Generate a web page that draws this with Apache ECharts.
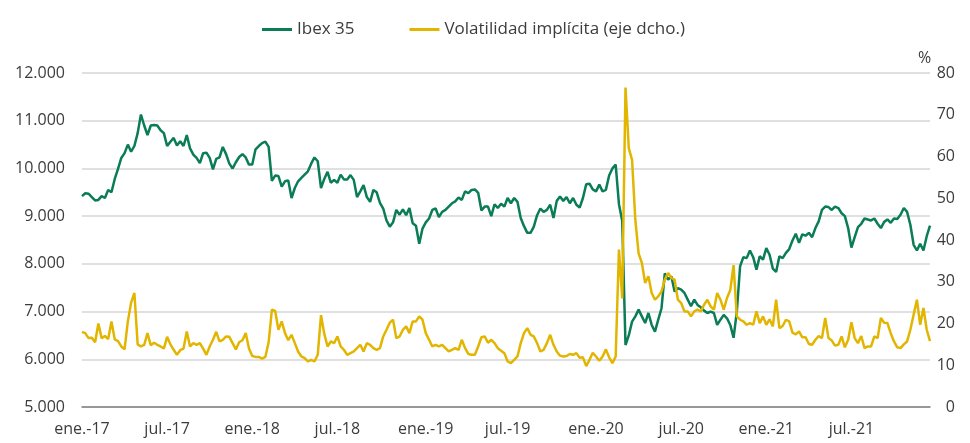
<!DOCTYPE html>
<html>
<head>
<meta charset="utf-8">
<title>Ibex 35 y volatilidad</title>
<script src="https://cdn.jsdelivr.net/npm/echarts@6/dist/echarts.min.js"></script>
<style>
  html, body { margin: 0; padding: 0; background: #fff; }
  #chart { width: 970px; height: 443px; }
</style>
</head>
<body>
<div id="chart"></div>
<script>
// semanas desde el lunes 2-ene-2017
const startDate = '2017-01-02'
const monthNames = ['ene.', 'feb.', 'mar.', 'abr.', 'may.', 'jun.', 'jul.', 'ago.', 'sep.', 'oct.', 'nov.', 'dic.']

// Ibex 35 (eje izq.), cierre semanal aprox.
const ibex = [
  9420, 9480, 9470, 9400, 9330, 9340, 9420, 9380, 9550, 9500,
  9780, 9990, 10220, 10320, 10500, 10350, 10470, 10740, 11130, 10900,
  10700, 10900, 10910, 10900, 10800, 10740, 10470, 10560, 10640, 10480,
  10570, 10470, 10700, 10420, 10290, 10220, 10110, 10320, 10330, 10220,
  9980, 10200, 10230, 10450, 10300, 10100, 10000, 10130, 10240, 10300,
  10230, 10080, 10080, 10400, 10470, 10530, 10560, 10450, 9740, 9850,
  9840, 9620, 9730, 9750, 9380, 9590,
  9730, 9800, 9870, 9940, 10100, 10230, 10150, 9590, 9780, 9930,
  9700, 9760, 9700, 9870, 9770, 9770, 9860, 9760, 9400, 9520,
  9650, 9400, 9300, 9550, 9500, 9280, 9160, 8910, 8780, 8870,
  9130, 9030, 9140, 9020, 9170, 8850, 8800, 8420, 8740, 8870,
  8950, 9130, 9160, 8980, 9090, 9130, 9200, 9270, 9310, 9390,
  9340, 9520, 9480, 9550, 9560, 9490, 9120, 9200, 9200, 9000,
  9250, 9170, 9260, 9200, 9380,
  9270, 9380, 9300, 8960, 8790, 8650, 8650, 8780, 9020, 9160,
  9090, 9130, 9240, 8960, 9320, 9410, 9320, 9400, 9270, 9380,
  9240, 9180, 9380, 9670, 9680, 9560, 9520, 9660, 9520, 9550,
  9850, 10000, 10080, 9250, 8900, 6300, 6500, 6790, 6900, 7040,
  6900, 6760, 6970, 6720, 6580, 6830, 7070, 7800, 7670, 7740,
  7420, 7490, 7460, 7390, 7250, 7110, 7250, 7140, 7090, 7020,
  6970, 7000, 6970, 6720, 6830,
  6930, 6860, 6720, 6450, 7000, 7950, 8140, 8120, 8280, 8140,
  7880, 8160, 8090, 8330, 8190, 7900, 7830, 8160, 8120, 8230,
  8310, 8490, 8630, 8440, 8620, 8590, 8650, 8560, 8750, 8890,
  9130, 9200, 9190, 9130, 9200, 9170, 9060, 9000, 8750, 8340,
  8560, 8770, 8840, 8950, 8930, 8910, 8950, 8840, 8750, 8880,
  8930, 8860, 8950, 8940, 9030, 9170, 9090, 8820, 8400, 8280,
  8420, 8280, 8580, 8800
]

// Volatilidad implícita, % (eje dcho.)
const volatilidad = [
  18.0, 17.7, 16.5, 16.6, 15.5, 20.0, 16.5, 17.0, 16.3, 20.5,
  16.2, 15.8, 14.5, 13.8, 20.5, 25.0, 27.3, 15.0, 14.5, 14.9,
  17.7, 14.8, 15.4, 14.9, 14.5, 14.0, 16.8, 15.0, 13.7, 12.5,
  13.6, 14.0, 18.1, 14.5, 15.3, 14.9, 15.3, 14.0, 12.5, 14.5,
  16.1, 18.0, 15.7, 16.1, 16.9, 16.8, 15.3, 13.8, 15.5, 16.0,
  17.7, 14.0, 12.2, 12.0, 12.0, 11.6, 12.0, 15.5, 23.3, 23.0,
  18.5, 20.5, 17.7, 16.0, 17.3, 15.3,
  13.3, 12.1, 11.7, 10.9, 11.3, 10.9, 12.5, 22.0, 17.5, 14.5,
  15.7, 15.3, 16.9, 14.5, 13.7, 12.5, 12.9, 13.3, 14.1, 14.9,
  13.3, 15.3, 14.9, 14.1, 13.7, 14.1, 16.9, 18.5, 20.2, 20.9,
  16.5, 16.9, 18.5, 19.3, 17.7, 20.5, 20.5, 21.7, 20.9, 17.7,
  16.1, 14.5, 14.9, 14.5, 14.9, 14.1, 13.3, 13.7, 14.1, 13.7,
  16.1, 14.1, 12.7, 12.5, 12.5, 14.5, 16.7, 16.9, 15.4, 16.1,
  15.3, 14.1, 13.5, 12.9, 10.9,
  10.5, 11.3, 12.1, 15.3, 17.7, 18.9, 17.3, 16.9, 15.3, 13.3,
  13.7, 15.3, 17.3, 14.9, 13.3, 12.3, 12.1, 12.2, 12.7, 12.5,
  12.9, 11.8, 11.9, 9.8, 11.3, 13.0, 12.1, 11.1, 12.1, 13.8,
  11.9, 10.5, 12.1, 37.7, 26.0, 76.5, 62.0, 59.2, 44.8, 36.8,
  34.5, 29.7, 31.3, 27.3, 25.7, 26.5, 27.7, 30.5, 32.1, 30.9,
  30.5, 25.7, 24.9, 22.9, 22.9, 21.7, 22.9, 23.3, 22.9, 24.5,
  25.7, 24.1, 23.3, 27.3, 25.7,
  23.3, 26.1, 28.0, 34.0, 21.7, 20.9, 20.5, 19.7, 20.1, 19.7,
  22.9, 20.1, 21.7, 19.7, 21.0, 19.3, 25.7, 18.9, 19.4, 20.9,
  20.5, 17.8, 17.4, 18.1, 16.7, 16.7, 15.1, 14.9, 16.1, 17.0,
  16.5, 21.3, 16.5, 15.9, 14.7, 14.9, 16.9, 14.3, 16.1, 20.3,
  16.5, 15.3, 17.0, 14.1, 14.5, 14.5, 16.9, 16.5, 21.3, 20.2,
  20.1, 17.7, 15.7, 14.3, 14.1, 15.0, 15.7, 18.5, 22.1, 25.7,
  19.7, 23.7, 18.5, 15.8
]

// fechas semanales
const weeks = []
for (let i = 0; i < ibex.length; i++) {
  const d = new Date(startDate + 'T00:00:00Z')
  d.setUTCDate(d.getUTCDate() + i * 7)
  weeks.push(d.toISOString().slice(0, 10))
}

// solo enero y julio, primera semana del mes
function isLabelWeek(value) {
  const d = new Date(value + 'T00:00:00Z')
  const m = d.getUTCMonth()
  return (m === 0 || m === 6) && d.getUTCDate() <= 7
}

function monthLabel(value) {
  const d = new Date(value + 'T00:00:00Z')
  return monthNames[d.getUTCMonth()] + '-' + String(d.getUTCFullYear()).slice(2)
}

function thousands(v) {
  return String(v).replace(/\B(?=(\d{3})+(?!\d))/g, '.')
}

const textColor = '#3c3c3c'
const font = '"Open Sans", "Noto Sans", sans-serif'

const chart = echarts.init(document.getElementById('chart'))

const option = {
  animation: false,
  textStyle: { fontFamily: font },
  title: {
    text: '%',
    left: 913,
    top: 45,
    textStyle: { fontSize: 16, fontWeight: 'normal', color: textColor, fontFamily: font }
  },
  legend: {
    top: 16,
    left: 257,
    icon: 'rect',
    itemWidth: 30,
    itemHeight: 3,
    itemGap: 55,
    textStyle: { fontSize: 17, color: textColor, fontFamily: font },
    data: ['Ibex 35', 'Volatilidad implícita (eje dcho.)']
  },
  grid: {
    left: 82,
    right: 40,
    top: 73,
    bottom: 36
  },
  xAxis: {
    type: 'category',
    boundaryGap: false,
    data: weeks,
    axisLine: { lineStyle: { color: '#808080', width: 1.5 } },
    axisTick: { show: false },
    axisLabel: {
      interval: (index, value) => isLabelWeek(value),
      formatter: monthLabel,
      margin: 14,
      fontSize: 16,
      color: textColor,
      fontFamily: font
    },
    splitLine: { show: false }
  },
  yAxis: [
    {
      type: 'value',
      min: 5000,
      max: 12000,
      interval: 1000,
      axisLine: { show: false },
      axisTick: { show: false },
      axisLabel: {
        formatter: thousands,
        margin: 17,
        fontSize: 16,
        color: textColor,
        fontFamily: font
      },
      splitLine: { lineStyle: { color: '#d6d6d6', width: 1.5 } }
    },
    {
      type: 'value',
      min: 0,
      max: 80,
      interval: 10,
      position: 'right',
      axisLine: { show: false },
      axisTick: { show: false },
      axisLabel: {
        align: 'right',
        margin: 25,
        fontSize: 16,
        color: textColor,
        fontFamily: font
      },
      splitLine: { show: false }
    }
  ],
  series: [
    {
      name: 'Ibex 35',
      type: 'line',
      yAxisIndex: 0,
      data: ibex,
      showSymbol: false,
      symbol: 'none',
      lineStyle: { color: '#0a7c57', width: 2.5 },
      itemStyle: { color: '#0a7c57' }
    },
    {
      name: 'Volatilidad implícita (eje dcho.)',
      type: 'line',
      yAxisIndex: 1,
      data: volatilidad,
      showSymbol: false,
      symbol: 'none',
      lineStyle: { color: '#e2b600', width: 2.5 },
      itemStyle: { color: '#e2b600' }
    }
  ]
}

chart.setOption(option)

window.onresize = () => {
  chart.resize()
}
</script>
</body>
</html>
